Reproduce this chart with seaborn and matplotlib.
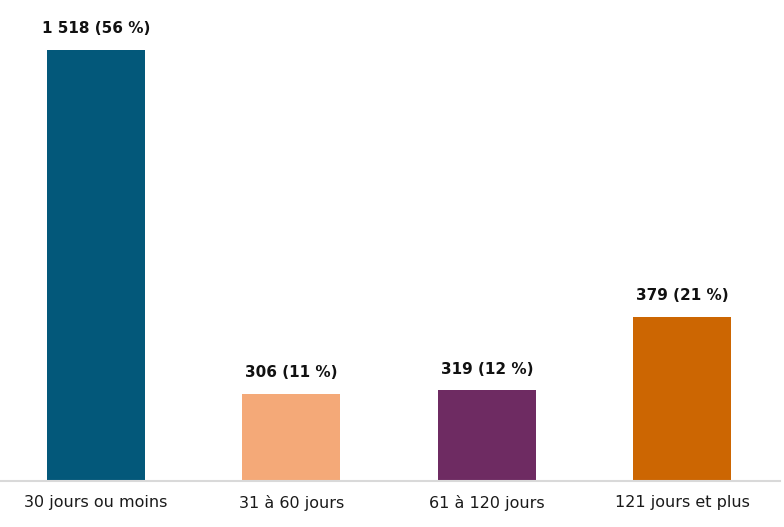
import matplotlib
matplotlib.use("Agg")
from matplotlib import pyplot as plt
import seaborn as sns
import pandas as pd

categories = ["30 jours ou moins", "31 à 60 jours", "61 à 120 jours", "121 jours et plus"]
values = [1518, 306, 319, 579]
bar_labels = ["1 518 (56 %)", "306 (11 %)", "319 (12 %)", "379 (21 %)"]
colors = ["#03587A", "#F4A978", "#6E2B62", "#CC6602"]

df = pd.DataFrame({"delai": categories, "n": values})

sns.set_style("white")
plt.rcParams["font.family"] = ["DejaVu Sans"]

fig = plt.figure(figsize=(7.84, 5.27), dpi=100)
ax = fig.add_axes([0.0, 0.0873, 0.995, 0.9127])
sns.barplot(data=df, x="delai", y="n", hue="delai", palette=colors,
            width=0.5, legend=False, saturation=1, linewidth=0, ax=ax)

for cont, lab in zip(ax.containers, bar_labels):
    ax.bar_label(cont, labels=[lab], padding=10, fontsize=11, fontweight="bold", color="#111111")

ax.set_xlim(-0.49, 3.5)
ax.set_ylim(0, 1694)
ax.set_xlabel("")
ax.set_ylabel("")
ax.set_yticks([])
ax.tick_params(axis="x", length=0, pad=10, labelsize=11.5, labelcolor="#1a1a1a")
for s in ["top", "right", "left"]:
    ax.spines[s].set_visible(False)
ax.spines["bottom"].set_color("#D9D9D9")
ax.spines["bottom"].set_linewidth(1.5)

plt.savefig("out.png", dpi=100)
plt.close()
